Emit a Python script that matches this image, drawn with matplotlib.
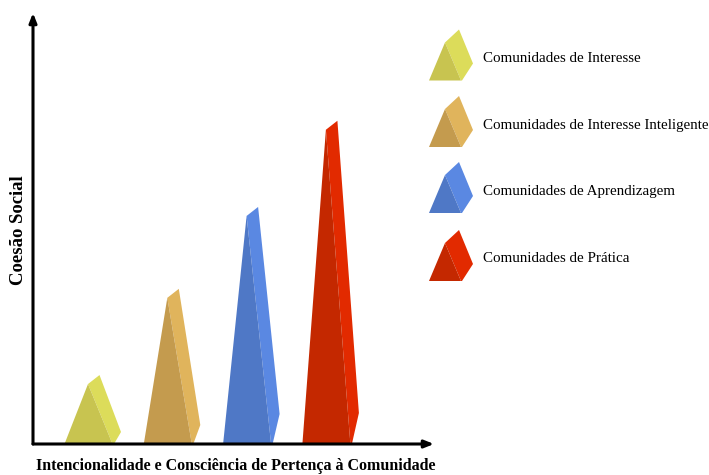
import matplotlib
matplotlib.use("Agg")
import matplotlib.pyplot as plt
from matplotlib.patches import Polygon

# ---- data -------------------------------------------------------------
categories = [
    "Comunidades de Interesse",
    "Comunidades de Interesse Inteligente",
    "Comunidades de Aprendizagem",
    "Comunidades de Prática",
]
cohesion = [16, 36, 55, 75]          # Coesão Social (apex height)
x_label = "Intencionalidade e Consciência de Pertença à Comunidade"
y_label = "Coesão Social"

# ---- style ------------------------------------------------------------
dark_colors = ["#C8C450", "#C49B4E", "#4F78C6", "#C42800"]
light_colors = ["#DCDC5A", "#E0B45C", "#5A88E2", "#E22A00"]
shoulder_px = [12, 19, 30, 31]       # height of the back-right base corner
FONT = ["Liberation Serif", "DejaVu Serif"]

W, H, DPI = 709, 475, 100
fig = plt.figure(figsize=(W / DPI, H / DPI), dpi=DPI)
fig.patch.set_facecolor("white")

# main plotting area (x 33..434 px, y 444..13 px)
left_px, right_px, bot_px, top_px = 33, 434, 444, 13
ax = fig.add_axes([left_px / W, (H - bot_px) / H,
                   (right_px - left_px) / W, (bot_px - top_px) / H])
px_per_x = 79.3
first_center_px = 55.0
ax.set_xlim(-first_center_px / px_per_x,
            (right_px - left_px - first_center_px) / px_per_x)
ax.set_ylim(0, 100)
px_per_y = (bot_px - top_px) / 100.0
ax.axis("off")


def pyramid(axis, cx, apex, sx, sy, shoulder, dark, light, left=23.5,
            right=24.5, drop=9, back_dx=11.5, side_dx=33, side_bottom=26):
    """Draw a pseudo-3D pyramid; offsets are given in pixels and scaled by sx, sy."""
    def P(dx, dy):
        return (cx + dx / sx, dy / sy)
    top = apex * sy
    front_apex = P(0, top - drop)
    back_apex = P(back_dx, top)
    front = [P(-left, 0), front_apex, P(right, 0)]
    side = [front_apex, back_apex, P(side_dx, shoulder),
            P(side_bottom, 0), P(right, 0)]
    axis.add_patch(Polygon(side, closed=True, facecolor=light,
                           edgecolor="none", clip_on=False))
    axis.add_patch(Polygon(front, closed=True, facecolor=dark,
                           edgecolor="none", clip_on=False))


for i, val in enumerate(cohesion):
    pyramid(ax, i, val, px_per_x, px_per_y, shoulder_px[i],
            dark_colors[i], light_colors[i])

# axes with arrow heads
arrow = dict(arrowstyle="-|>,head_length=0.55,head_width=0.22", lw=2.2,
             color="black", shrinkA=0, shrinkB=0)
ax.annotate("", xy=(0, 1), xytext=(0, 0), xycoords="axes fraction",
            arrowprops=arrow)
ax.annotate("", xy=(1, 0), xytext=(0, 0), xycoords="axes fraction",
            arrowprops=arrow)

# axis titles
fig.text(36 / W, 1 - 466 / H, x_label, family=FONT, fontweight="bold",
         fontsize=11.5, ha="left", va="center")
fig.text(18.5 / W, 1 - 230 / H, y_label, family=FONT, fontweight="bold",
         fontsize=13.5, ha="center", va="center", rotation=90)

# legend drawn in pixel coordinates
lg = fig.add_axes([0, 0, 1, 1], zorder=-1)
lg.set_xlim(0, W)
lg.set_ylim(H, 0)
lg.axis("off")
legend_base_y = [80.5, 147, 213, 281]
legend_text_y = [58, 125, 191, 258]
for i, name in enumerate(categories):
    b = legend_base_y[i]
    cx = 445
    front = [(cx - 16, b), (cx, b - 38), (cx + 16, b)]
    side = [(cx, b - 38), (cx + 14, b - 51), (cx + 28, b - 17),
            (cx + 17, b), (cx + 16, b)]
    lg.add_patch(Polygon(side, closed=True, facecolor=light_colors[i],
                         edgecolor="none"))
    lg.add_patch(Polygon(front, closed=True, facecolor=dark_colors[i],
                         edgecolor="none"))
    lg.text(483, legend_text_y[i], name, family=FONT, fontsize=10.8,
            ha="left", va="center")

fig.savefig("out.png", dpi=DPI, facecolor="white")
